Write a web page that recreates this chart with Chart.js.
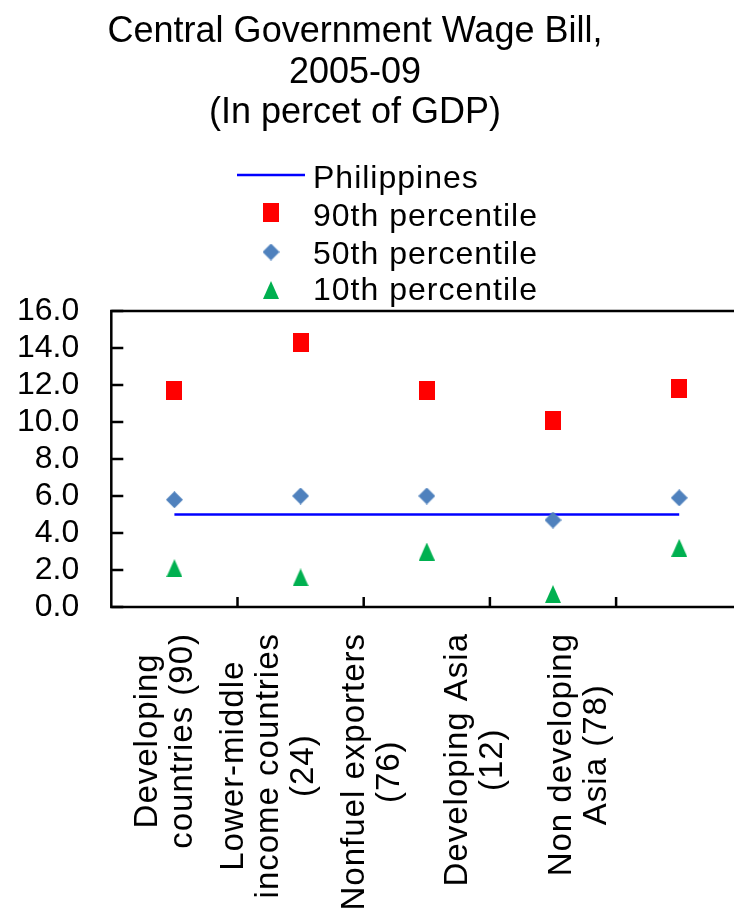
<!DOCTYPE html>
<html>
<head>
<meta charset="utf-8">
<title>Central Government Wage Bill, 2005-09</title>
<script src="https://cdn.jsdelivr.net/npm/chart.js@4/dist/chart.umd.min.js"></script>
<style>
  html, body { margin: 0; padding: 0; background: #ffffff; overflow: hidden; }
  #wrap { width: 734px; height: 911px; overflow: hidden; position: relative; }
  canvas { display: block; }
</style>
</head>
<body>
<div id="wrap"><canvas id="chart" width="760" height="911"></canvas></div>
<script>
// Country groups (number of countries in brackets)
const categories = [
  ['Developing', 'countries (90)'],
  ['Lower-middle', 'income countries', '(24)'],
  ['Nonfuel exporters', '(76)'],
  ['Developing Asia', '(12)'],
  ['Non developing', 'Asia (78)']
];

// Wage bill, percent of GDP
const philippines = [5.0, 5.0, 5.0, 5.0, 5.0];
const pct90 = [11.7, 14.3, 11.7, 10.1, 11.8];
const pct50 = [5.8, 6.0, 6.0, 4.7, 5.9];
const pct10 = [2.1, 1.6, 3.0, 0.7, 3.2];

// Value axis
const yMin = 0;
const yMax = 16;
const yStep = 2;

const titleLines = ['Central Government Wage Bill,', '2005-09', '(In percet of GDP)'];
const seriesNames = ['Philippines', '90th percentile', '50th percentile', '10th percentile'];

const FONT = "'Liberation Sans', Arial, Helvetica, sans-serif";

// Small bitmap markers
function makeMarker(w, h, color, shape) {
  const c = document.createElement('canvas');
  c.width = w; c.height = h;
  const g = c.getContext('2d');
  g.fillStyle = color;
  g.beginPath();
  if (shape === 'square') {
    g.rect(0, 0, w, h);
  } else if (shape === 'diamond') {
    g.moveTo(w / 2, 0); g.lineTo(w, h / 2); g.lineTo(w / 2, h); g.lineTo(0, h / 2);
  } else {
    g.moveTo(w / 2, 0); g.lineTo(w, h); g.lineTo(0, h);
  }
  g.closePath();
  g.fill();
  return c;
}
const squareMark = makeMarker(16, 19, '#FF0000', 'square');
const diamondMark = makeMarker(17, 17, '#4F81BD', 'diamond');
const triangleMark = makeMarker(16, 18, '#00B050', 'triangle');

// Title, legend, frame, inner tick marks and rotated category labels
const decorations = {
  id: 'decorations',
  afterDraw(chart) {
    const ctx = chart.ctx;
    const area = chart.chartArea;
    const xs = chart.scales.x;
    const ys = chart.scales.y;

    ctx.save();
    ctx.fillStyle = '#000';

    // title
    ctx.font = '36px ' + FONT;
    ctx.textAlign = 'center';
    ctx.textBaseline = 'alphabetic';
    const titleBase = [42, 83, 123];
    titleLines.forEach((t, i) => ctx.fillText(t, 355, titleBase[i]));

    // legend
    const legX = 313, symX = 271;
    const legBase = [188, 226, 264, 300];
    ctx.font = '32px ' + FONT;
    ctx.textAlign = 'left';
    ctx.letterSpacing = '1px';
    seriesNames.forEach((t, i) => ctx.fillText(t, legX, legBase[i]));
    ctx.letterSpacing = '0px';
    ctx.strokeStyle = '#0000FF';
    ctx.lineWidth = 2.5;
    ctx.beginPath();
    ctx.moveTo(237, 175); ctx.lineTo(305, 175);
    ctx.stroke();
    const marks = [squareMark, diamondMark, triangleMark];
    const markY = [212.5, 252, 290];
    marks.forEach((m, i) => ctx.drawImage(m, symX - m.width / 2, markY[i] - m.height / 2));

    // plot frame
    ctx.strokeStyle = '#000';
    ctx.lineWidth = 2.5;
    ctx.strokeRect(area.left, area.top, area.right - area.left, area.bottom - area.top);

    // inner tick marks on the value axis
    ctx.beginPath();
    ys.ticks.forEach((t, i) => {
      const y = ys.getPixelForTick(i);
      ctx.moveTo(area.left, y); ctx.lineTo(area.left + 12, y);
    });
    // inner tick marks between categories
    const half = (xs.getPixelForTick(1) - xs.getPixelForTick(0)) / 2;
    for (let i = 0; i < categories.length; i++) {
      const x = xs.getPixelForTick(i) + half;
      ctx.moveTo(x, area.bottom); ctx.lineTo(x, area.bottom - 10);
    }
    ctx.stroke();

    // category labels, rotated, lines centred within each block
    ctx.font = '33px ' + FONT;
    ctx.letterSpacing = '1px';
    ctx.textAlign = 'center';
    ctx.textBaseline = 'alphabetic';
    const pitch = (xs.getPixelForTick(1) - xs.getPixelForTick(0)) * 0.82;
    const lineH = 35;
    const topEnd = area.bottom + 26;
    categories.forEach((lines, i) => {
      const maxW = Math.max(...lines.map(l => ctx.measureText(l).width));
      const bx = xs.getPixelForTick(0) + i * pitch;
      const by = topEnd + maxW / 2;
      ctx.save();
      ctx.translate(bx, by);
      ctx.rotate(-Math.PI / 2);
      lines.forEach((l, j) => {
        ctx.fillText(l, 0, (j - (lines.length - 1) / 2) * lineH);
      });
      ctx.restore();
    });
    ctx.restore();
  }
};

new Chart(document.getElementById('chart'), {
  type: 'line',
  data: {
    labels: categories,
    datasets: [
      {
        label: seriesNames[0], data: philippines,
        borderColor: '#0000FF', borderWidth: 2.5, pointRadius: 0, fill: false, order: 4
      },
      {
        label: seriesNames[1], data: pct90, showLine: false,
        pointStyle: squareMark, pointRadius: 9, order: 1
      },
      {
        label: seriesNames[2], data: pct50, showLine: false,
        pointStyle: diamondMark, pointRadius: 9, order: 2
      },
      {
        label: seriesNames[3], data: pct10, showLine: false,
        pointStyle: triangleMark, pointRadius: 9, order: 3
      }
    ]
  },
  options: {
    responsive: false,
    animation: false,
    devicePixelRatio: 1,
    layout: { padding: { left: 0, right: 17.7, top: 311, bottom: 304 } },
    plugins: {
      legend: { display: false },
      title: { display: false },
      tooltip: { enabled: false }
    },
    scales: {
      x: {
        offset: true,
        grid: { display: false, drawTicks: false },
        border: { display: false },
        ticks: { display: false }
      },
      y: {
        min: yMin, max: yMax,
        grid: { display: false, drawTicks: false },
        border: { display: false },
        ticks: {
          stepSize: yStep,
          autoSkip: false,
          padding: 32,
          color: '#000',
          font: { family: FONT, size: 32 },
          callback: v => Number(v).toFixed(1)
        },
        afterFit(scale) { scale.width = 111.3; }
      }
    }
  },
  plugins: [decorations]
});
</script>
</body>
</html>
